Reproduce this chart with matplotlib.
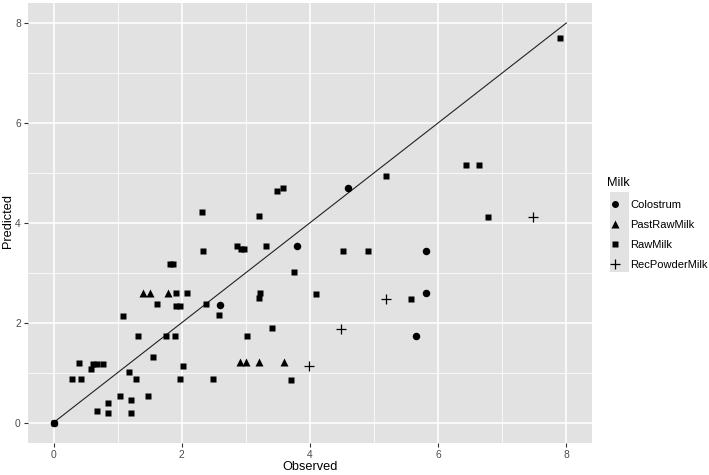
import matplotlib
matplotlib.use("Agg")
import matplotlib.pyplot as plt
from matplotlib.lines import Line2D
from matplotlib.patches import Rectangle

plt.rcParams['font.family'] = ['Liberation Sans', 'DejaVu Sans']

# ---- data (Observed, Predicted) ----
colostrum_x = [0.00, 2.60, 3.80, 4.60, 5.81, 5.81, 5.66]
colostrum_y = [0.00, 2.35, 3.53, 4.69, 3.44, 2.59, 1.73]

pastraw_x = [1.39, 1.50, 1.79, 2.90, 3.00, 3.20, 3.59]
pastraw_y = [2.60, 2.60, 2.60, 1.21, 1.21, 1.21, 1.21]

raw_x = [0.00, 0.28, 0.42, 1.29, 1.97, 2.48, 0.40, 0.62, 0.67, 0.77, 0.59,
         1.18, 2.02, 1.55, 1.03, 1.47, 1.20, 0.85, 0.67, 0.85, 1.20,
         1.31, 1.76, 1.89, 3.01, 1.09, 2.58, 1.61, 1.91, 1.97, 2.38,
         1.91, 2.08, 3.22, 3.20, 4.09, 5.58, 3.40, 3.71, 3.75,
         2.33, 2.86, 2.92, 2.97, 3.32, 4.52, 4.91, 2.31, 3.20, 3.48, 3.58,
         5.19, 6.44, 6.64, 6.77, 7.90, 1.82, 1.87]
raw_y = [0.00, 0.88, 0.88, 0.88, 0.88, 0.88, 1.19, 1.18, 1.18, 1.18, 1.07,
         1.01, 1.14, 1.31, 0.54, 0.54, 0.46, 0.40, 0.23, 0.20, 0.20,
         1.73, 1.73, 1.73, 1.73, 2.14, 2.16, 2.37, 2.33, 2.33, 2.37,
         2.59, 2.59, 2.59, 2.49, 2.58, 2.48, 1.90, 0.85, 3.02,
         3.44, 3.54, 3.48, 3.48, 3.54, 3.44, 3.44, 4.22, 4.13, 4.64, 4.70,
         4.94, 5.15, 5.15, 4.12, 7.70, 3.18, 3.18]

recpowder_x = [3.99, 4.49, 5.18, 7.48]
recpowder_y = [1.13, 1.88, 2.48, 4.11]

identity = [0, 8]
ticks = [0, 2, 4, 6, 8]
minor_ticks = [1, 3, 5, 7]
legend_title = "Milk"
labels = ["Colostrum", "PastRawMilk", "RawMilk", "RecPowderMilk"]

W, H = 709, 475
fig = plt.figure(figsize=(W / 100, H / 100), dpi=100)
panel_bg = '#E2E2E2'
ax = fig.add_axes([28 / W, 1 - 442.5 / H, (592 - 28) / W, (442.5 - 3) / H])
ax.set_facecolor(panel_bg)
for s in ax.spines.values():
    s.set_visible(False)

ax.set_xlim(-0.4, 8.4)
ax.set_ylim(-0.4, 8.4)
ax.set_xticks(ticks)
ax.set_yticks(ticks)
ax.set_xticks(minor_ticks, minor=True)
ax.set_yticks(minor_ticks, minor=True)
ax.set_xticklabels([str(t) for t in ticks])
ax.set_yticklabels([str(t) for t in ticks])
ax.grid(True, which='major', color='white', lw=1.1)
ax.grid(True, which='minor', color='white', lw=0.55)
ax.set_axisbelow(True)
ax.tick_params(which='major', length=2.7, width=0.8, color='#333333',
               labelsize=7.4, labelcolor='#4D4D4D', pad=2.5)
ax.tick_params(which='minor', length=0)

ax.plot(identity, identity, color='#222222', lw=0.8, zorder=2)

style = dict(ls='none', color='black', zorder=3)
ax.plot(colostrum_x, colostrum_y, marker='o', ms=5.4, mec='none', **style)
ax.plot(pastraw_x, pastraw_y, marker='^', ms=6.3, mec='none', **style)
ax.plot(raw_x, raw_y, marker='s', ms=5.0, mec='none', **style)
ax.plot(recpowder_x, recpowder_y, marker='+', ms=7.5, mew=0.9, **style)

fig.text(310 / W, 1 - 467 / H, "Observed", ha='center', va='center', fontsize=9.2)
fig.text(8 / W, 1 - 221 / H, "Predicted", ha='center', va='center',
         rotation=90, fontsize=9.2)

# legend
handles = [
    Line2D([], [], ls='none', marker='o', ms=5.0, color='black', mec='none'),
    Line2D([], [], ls='none', marker='^', ms=6.0, color='black', mec='none'),
    Line2D([], [], ls='none', marker='s', ms=4.8, color='black', mec='none'),
    Line2D([], [], ls='none', marker='+', ms=7.5, mew=0.9, color='black'),
]
fig.patches.append(Rectangle((610 / W, 1 - 272 / H), 19 / W, 80 / H,
                             transform=fig.transFigure, facecolor=panel_bg,
                             edgecolor='none', zorder=0))
leg = fig.legend(handles, labels, title=legend_title, loc='upper left',
                 bbox_to_anchor=(604 / W, 1 - 174 / H), frameon=False,
                 fontsize=8, title_fontsize=9.2, handlelength=1.3,
                 handletextpad=0.75, labelspacing=0.92, alignment='left',
                 borderpad=0.3, borderaxespad=0)

fig.savefig("out.png", dpi=100)
